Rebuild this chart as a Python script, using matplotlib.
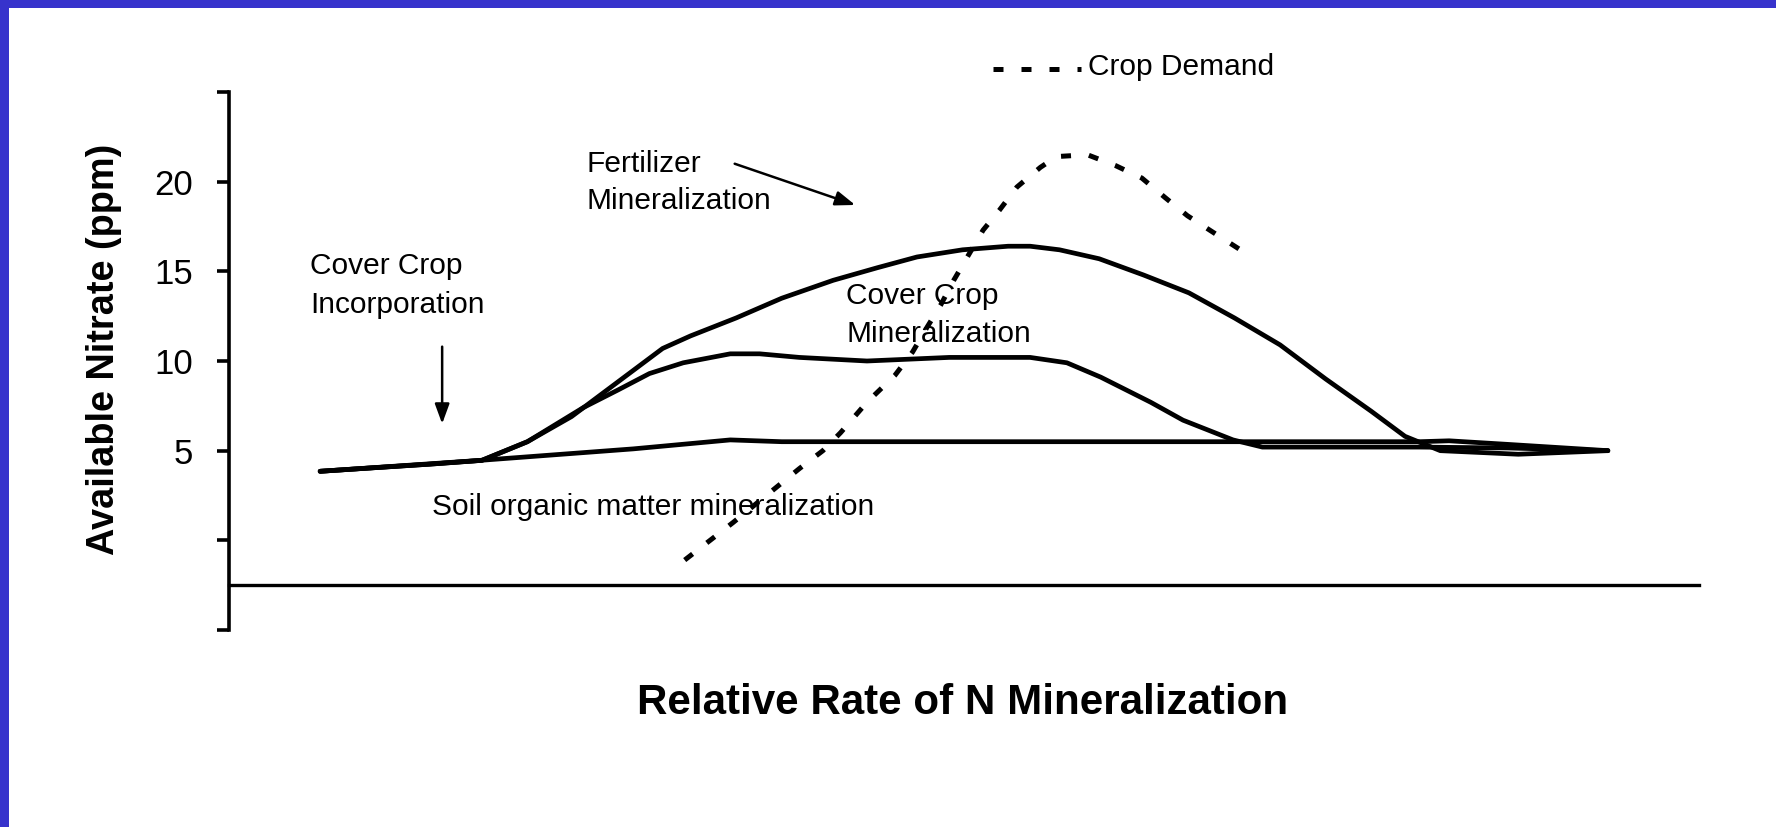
import matplotlib
matplotlib.use("Agg")
import matplotlib.pyplot as plt
from matplotlib.lines import Line2D
from matplotlib.patches import Rectangle

# x: relative position along the season (0-100 across the axis), y: nitrate (ppm)
x_fert = [6.2, 9.9, 13.7, 17.2, 20.3, 23.3, 26.4, 29.5, 31.4, 34.5, 37.6, 41.1, 44.1,
          46.8, 49.9, 53.0, 54.5, 56.5, 59.2, 62.2, 65.3, 68.4, 71.5, 74.6, 77.7, 80.0,
          82.4, 86.4, 87.7, 93.8]
y_fert = [3.85, 4.05, 4.25, 4.46, 5.5, 6.9, 8.8, 10.7, 11.4, 12.4, 13.5, 14.5, 15.2,
          15.8, 16.2, 16.4, 16.4, 16.2, 15.7, 14.8, 13.8, 12.4, 10.9, 9.0, 7.2, 5.8,
          5.0, 4.85, 4.8, 5.0]

x_cover = [6.2, 9.9, 13.7, 17.2, 20.3, 24.1, 26.5, 28.6, 30.9, 34.1, 36.1, 38.8, 43.4,
           49.0, 54.5, 57.0, 59.3, 62.7, 64.9, 68.3, 70.3, 75.0, 81.0, 87.0, 93.8]
y_cover = [3.85, 4.05, 4.25, 4.46, 5.5, 7.4, 8.4, 9.3, 9.9, 10.4, 10.4, 10.2, 10.0,
           10.2, 10.2, 9.9, 9.1, 7.7, 6.7, 5.6, 5.2, 5.2, 5.2, 5.15, 5.0]

x_som = [6.2, 17.1, 27.5, 34.1, 37.6, 50.0, 65.0, 81.0, 83.0, 87.0, 93.8]
y_som = [3.85, 4.46, 5.1, 5.6, 5.5, 5.5, 5.5, 5.5, 5.55, 5.35, 5.0]

x_demand = [31.0, 34.3, 38.8, 40.4, 41.6, 43.4, 45.3, 46.5, 47.5, 48.4, 49.3, 50.3,
            51.3, 52.4, 53.6, 55.2, 56.3, 58.4, 60.3, 62.1, 63.7, 65.2, 66.9, 68.8]
y_demand = [-1.1, 1.0, 4.0, 5.0, 6.0, 7.7, 9.2, 10.5, 11.9, 13.1, 14.5, 15.9,
            17.3, 18.4, 19.7, 20.8, 21.4, 21.5, 20.9, 20.2, 19.1, 18.1, 17.2, 16.2]

yticks = [-5, 0, 5, 10, 15, 20, 25]
ytick_labels = ["", "", "5", "10", "15", "20", ""]

W, H = 1776, 827
BLUE = "#3733cc"
DASH = (2.0, 3.6)

plt.rcParams["font.family"] = ["Liberation Sans", "DejaVu Sans"]

fig = plt.figure(figsize=(W / 100, H / 100), dpi=100)
ax = fig.add_axes([229 / W, 1 - 630 / H, 1470 / W, 538 / H])
ax.set_xlim(0, 100)
ax.set_ylim(-5, 25)

for s in ("top", "right"):
    ax.spines[s].set_visible(False)
ax.spines["left"].set_linewidth(2.6)
ax.spines["bottom"].set_linewidth(2.4)
ax.spines["bottom"].set_position(("data", -2.5))
ax.set_xticks([])
ax.set_yticks(yticks)
ax.set_yticklabels(ytick_labels)
ax.tick_params(axis="y", length=8.6, width=2.6, pad=17, labelsize=25)

kw = dict(color="black", lw=3.4, solid_joinstyle="round", solid_capstyle="round")
ax.plot(x_som, y_som, **kw)
ax.plot(x_cover, y_cover, **kw)
ax.plot(x_fert, y_fert, **kw)
ax.plot(x_demand, y_demand, color="black", lw=3.6, dashes=DASH)

# annotations
fs = 21.5
ax.text(5.5, 15.3, "Cover Crop", fontsize=fs, va="center")
ax.text(5.5, 13.1, "Incorporation", fontsize=fs, va="center")
ax.text(24.3, 21.0, "Fertilizer", fontsize=fs, va="center")
ax.text(24.3, 18.9, "Mineralization", fontsize=fs, va="center")
ax.text(42.0, 13.65, "Cover Crop", fontsize=fs, va="center")
ax.text(42.0, 11.5, "Mineralization", fontsize=fs, va="center")
ax.text(13.8, 1.84, "Soil organic matter mineralization", fontsize=fs, va="center")

arrow = dict(arrowstyle="-|>,head_length=0.6,head_width=0.22", lw=1.8, color="black",
             mutation_scale=20, shrinkA=0, shrinkB=0)
ax.annotate("", xy=(14.5, 6.5), xytext=(14.5, 10.8), arrowprops=arrow)
ax.annotate("", xy=(42.6, 18.7), xytext=(34.4, 21.0), arrowprops=arrow)

# legend entry
fig.add_artist(Line2D([993 / W, 1081 / W], [1 - 69 / H] * 2, transform=fig.transFigure,
                      color="black", lw=3.6, dashes=DASH))
fig.text(1088 / W, 1 - 67 / H, "Crop Demand", fontsize=fs, va="center", ha="left")

fig.text(104 / W, 1 - 349 / H, "Available Nitrate (ppm)", rotation=90, ha="center",
         va="center", fontsize=27.3, fontweight="bold")
fig.text(963 / W, 1 - 703 / H, "Relative Rate of N Mineralization", ha="center",
         va="center", fontsize=30.3, fontweight="bold")

# blue slide frame (top and left edges only)
fig.add_artist(Rectangle((0, 1 - 8 / H), 1, 8 / H, transform=fig.transFigure,
                         color=BLUE, lw=0))
fig.add_artist(Rectangle((0, 0), 9 / W, 1, transform=fig.transFigure, color=BLUE, lw=0))

fig.savefig("out.png", dpi=100)
